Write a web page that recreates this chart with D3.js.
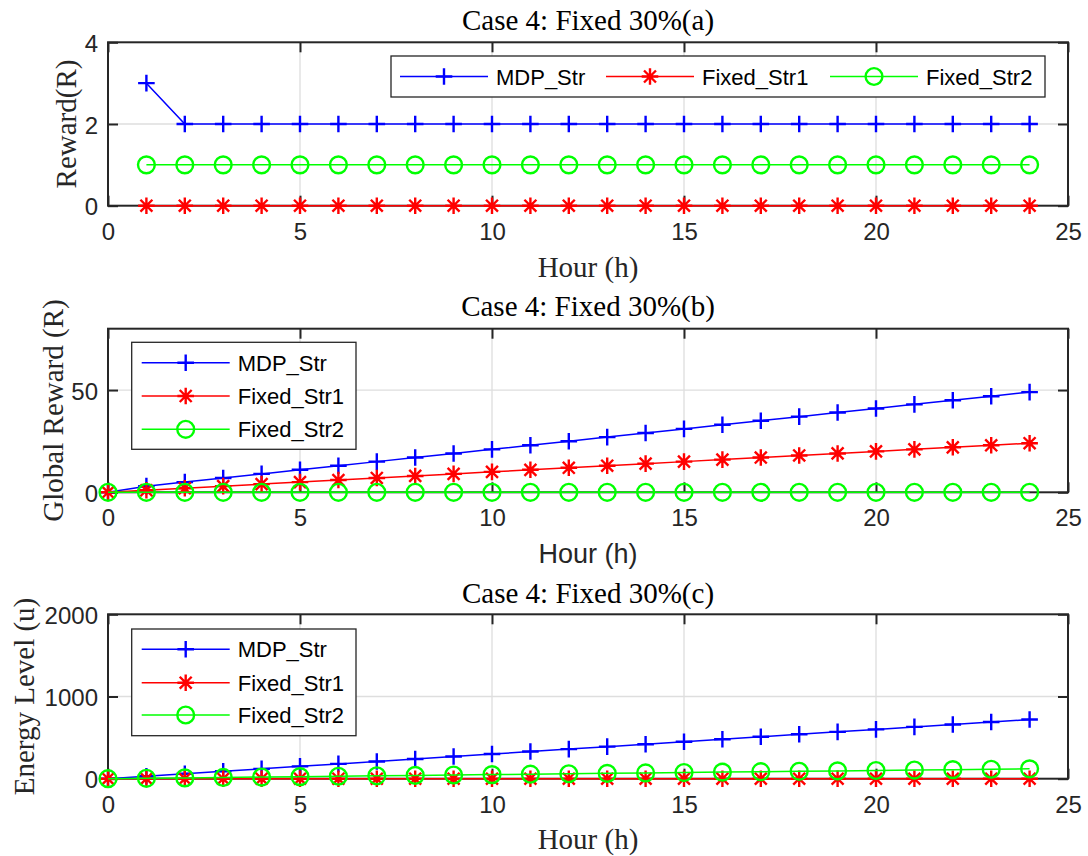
<!DOCTYPE html>
<html><head><meta charset="utf-8">
<script src="https://cdn.jsdelivr.net/npm/d3@7"></script>
<style>body{margin:0;background:#fff}svg{display:block}</style>
</head><body>
<script>
// ---------- data ----------
const seriesNames = ["MDP_Str", "Fixed_Str1", "Fixed_Str2"];
const xTicks = [0, 5, 10, 15, 20, 25];

const hoursA = [1,2,3,4,5,6,7,8,9,10,11,12,13,14,15,16,17,18,19,20,21,22,23,24];
const mdpReward    = [3,2,2,2,2,2,2,2,2,2,2,2,2,2,2,2,2,2,2,2,2,2,2,2];
const fixed1Reward = [0,0,0,0,0,0,0,0,0,0,0,0,0,0,0,0,0,0,0,0,0,0,0,0];
const fixed2Reward = [1,1,1,1,1,1,1,1,1,1,1,1,1,1,1,1,1,1,1,1,1,1,1,1];
const yTicksA = [0, 2, 4];

const hoursB = [0,1,2,3,4,5,6,7,8,9,10,11,12,13,14,15,16,17,18,19,20,21,22,23,24];
const mdpGlobal    = [0,3,5,7,9,11,13,15,17,19,21,23,25,27,29,31,33,35,37,39,41,43,45,47,49];
const fixed1Global = [0,1,2,3,4,5,6,7,8,9,10,11,12,13,14,15,16,17,18,19,20,21,22,23,24];
const fixed2Global = [0,0,0,0,0,0,0,0,0,0,0,0,0,0,0,0,0,0,0,0,0,0,0,0,0];
const yTicksB = [0, 50];

const mdpEnergy    = [0,30,60,90,120,150,180,210,240,270,300,330,360,390,420,450,480,510,540,570,600,630,660,690,720];
const fixed1Energy = [0,0,0,0,0,0,0,0,0,0,0,0,0,0,0,0,0,0,0,0,0,0,0,0,0];
const fixed2Energy = [0,5,10,15,20,25,30,35,40,45,50,55,60,65,70,75,80,85,90,95,100,105,110,115,120];
const yTicksC = [0, 1000, 2000];

// ---------- styles ----------
const colors = ["#0000ff", "#ff0000", "#00ff00"];
const markers = ["plus", "star", "circle"];
const AX = "#262626", GRID = "#dedede";
const SANS = "'Liberation Sans', Arial, sans-serif";
const SERIF = "'Liberation Serif', 'Times New Roman', serif";
const fmt = d3.format("d");

const W = 1088, H = 856;
const svg = d3.select("body").append("svg").attr("width", W).attr("height", H);

function drawMarker(g, type, x, y, color) {
  const s = 8.3;
  if (type === "plus") {
    g.append("path").attr("d", `M${x-s},${y}H${x+s}M${x},${y-s}V${y+s}`)
      .attr("stroke", color).attr("stroke-width", 2.4).attr("fill", "none");
  } else if (type === "star") {
    const d = s * 0.72;
    g.append("path").attr("d", `M${x-s},${y}H${x+s}M${x},${y-s}V${y+s}M${x-d},${y-d}L${x+d},${y+d}M${x-d},${y+d}L${x+d},${y-d}`)
      .attr("stroke", color).attr("stroke-width", 2.4).attr("fill", "none");
  } else {
    g.append("circle").attr("cx", x).attr("cy", y).attr("r", 8.4)
      .attr("stroke", color).attr("stroke-width", 2.4).attr("fill", "none");
  }
}

function panel(cfg) {
  const {top, bottom, yMax, yTicks, xs, series, title, titleBase, ylabel, ylabelX,
         xlabelBase, xlabelFont, xlabelSize, legend} = cfg;
  const left = 108, right = 1068;
  const x = d3.scaleLinear().domain([0, 25]).range([left, right]);
  const y = d3.scaleLinear().domain([0, yMax]).range([bottom, top]);
  const g = svg.append("g");

  // grid
  g.append("g").selectAll("line").data(xTicks.filter(t => t > 0 && t < 25)).join("line")
    .attr("x1", d => x(d)).attr("x2", d => x(d)).attr("y1", top).attr("y2", bottom)
    .attr("stroke", GRID).attr("stroke-width", 1.3);
  g.append("g").selectAll("line").data(yTicks.filter(t => t > 0 && t < yMax)).join("line")
    .attr("y1", d => y(d)).attr("y2", d => y(d)).attr("x1", left).attr("x2", right)
    .attr("stroke", GRID).attr("stroke-width", 1.3);

  // axes via d3 axis (inward ticks), box — drawn below the data
  const tl = 10;
  const xb = g.append("g").attr("transform", `translate(0,${bottom})`)
    .call(d3.axisBottom(x).tickValues(xTicks).tickFormat(fmt).tickSizeInner(-tl).tickSizeOuter(0));
  const xt = g.append("g").attr("transform", `translate(0,${top})`)
    .call(d3.axisTop(x).tickValues(xTicks).tickSizeInner(-tl).tickSizeOuter(0).tickFormat(""));
  const yl = g.append("g").attr("transform", `translate(${left},0)`)
    .call(d3.axisLeft(y).tickValues(yTicks).tickFormat(fmt).tickSizeInner(-tl).tickSizeOuter(0));
  const yr = g.append("g").attr("transform", `translate(${right},0)`)
    .call(d3.axisRight(y).tickValues(yTicks).tickSizeInner(-tl).tickSizeOuter(0).tickFormat(""));
  [xb, xt, yl, yr].forEach(a => {
    a.select(".domain").remove();
    a.selectAll(".tick line").attr("stroke", AX).attr("stroke-width", 2);
    a.selectAll("text").attr("fill", AX).style("font-family", SANS).style("font-size", "24px");
  });
  xb.selectAll("text").attr("dy", null).attr("y", 34).attr("text-anchor", "middle");
  yl.selectAll("text").attr("dy", null).attr("y", 9).attr("x", -10).attr("text-anchor", "end");

  g.append("rect").attr("x", left).attr("y", top).attr("width", right - left).attr("height", bottom - top)
    .attr("fill", "none").attr("stroke", AX).attr("stroke-width", 2);

  // data
  const line = d3.line().x(d => x(d[0])).y(d => y(d[1]));
  series.forEach((vals, i) => {
    const pts = xs.map((h, k) => [h, vals[k]]);
    g.append("path").attr("d", line(pts)).attr("fill", "none")
      .attr("stroke", colors[i]).attr("stroke-width", 1.5);
    const mg = g.append("g");
    pts.forEach(p => drawMarker(mg, markers[i], x(p[0]), y(p[1]), colors[i]));
  });

  // title & labels
  g.append("text").attr("x", (left + right) / 2).attr("y", titleBase).attr("text-anchor", "middle")
    .style("font-family", SERIF).style("font-size", "29px").attr("fill", "#000").text(title);
  g.append("text").attr("x", (left + right) / 2).attr("y", xlabelBase).attr("text-anchor", "middle")
    .style("font-family", xlabelFont).style("font-size", xlabelSize).attr("fill", AX).text("Hour (h)");
  g.append("text").attr("transform", `translate(${ylabelX},${(top + bottom) / 2}) rotate(-90)`)
    .attr("text-anchor", "middle").style("font-family", SERIF).style("font-size", "29px")
    .attr("fill", AX).text(ylabel);

  // legend
  const L = legend;
  const lg = g.append("g");
  lg.append("rect").attr("x", L.x0).attr("y", L.y0).attr("width", L.x1 - L.x0).attr("height", L.y1 - L.y0)
    .attr("fill", "#fff").attr("stroke", AX).attr("stroke-width", 1.3);
  seriesNames.forEach((name, i) => {
    const e = L.entries[i];
    lg.append("line").attr("x1", e.lx).attr("x2", e.lx + 88).attr("y1", e.y).attr("y2", e.y)
      .attr("stroke", colors[i]).attr("stroke-width", 1.5);
    drawMarker(lg, markers[i], e.lx + 44, e.y, colors[i]);
    lg.append("text").attr("x", e.lx + 96).attr("y", e.y + 8).style("font-family", SANS)
      .style("font-size", "22px").attr("fill", "#000").text(name);
  });
}

panel({
  top: 42.3, bottom: 205.7, yMax: 4, yTicks: yTicksA, xs: hoursA,
  series: [mdpReward, fixed1Reward, fixed2Reward],
  title: "Case 4: Fixed 30%(a)", titleBase: 30, ylabel: "Reward(R)", ylabelX: 76,
  xlabelBase: 276.5, xlabelFont: SERIF, xlabelSize: "29px",
  legend: {x0: 391, x1: 1045, y0: 56, y1: 97,
    entries: [{lx: 400, y: 76.5}, {lx: 606, y: 76.5}, {lx: 830, y: 76.5}]}
});

panel({
  top: 328.7, bottom: 492.3, yMax: 80, yTicks: yTicksB, xs: hoursB,
  series: [mdpGlobal, fixed1Global, fixed2Global],
  title: "Case 4: Fixed 30%(b)", titleBase: 316, ylabel: "Global Reward (R)", ylabelX: 63,
  xlabelBase: 563, xlabelFont: SANS, xlabelSize: "27px",
  legend: {x0: 131.7, x1: 356, y0: 342.3, y1: 449.3,
    entries: [{lx: 141.7, y: 362.7}, {lx: 141.7, y: 396}, {lx: 141.7, y: 429.3}]}
});

panel({
  top: 614.3, bottom: 778.7, yMax: 2000, yTicks: yTicksC, xs: hoursB,
  series: [mdpEnergy, fixed1Energy, fixed2Energy],
  title: "Case 4: Fixed 30%(c)", titleBase: 602.5, ylabel: "Energy Level (u)", ylabelX: 33.5,
  xlabelBase: 849, xlabelFont: SERIF, xlabelSize: "29px",
  legend: {x0: 131.7, x1: 356, y0: 629, y1: 735.7,
    entries: [{lx: 141.7, y: 649.3}, {lx: 141.7, y: 682.7}, {lx: 141.7, y: 715}]}
});
</script>
</body></html>
